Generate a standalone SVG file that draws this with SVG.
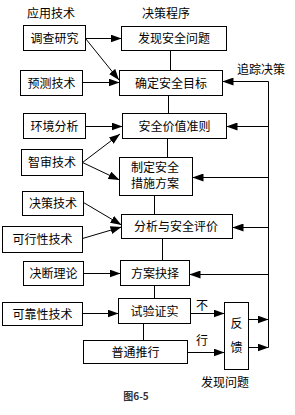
<svg xmlns="http://www.w3.org/2000/svg" width="295" height="415" viewBox="0 0 295 415">
<style>
rect{fill:#fff;stroke:#000;stroke-width:1}
text{font-family:"Noto Sans CJK SC","Liberation Sans",sans-serif;font-size:12px;fill:#000;text-anchor:middle}
.c line,.c polyline{stroke:#000;stroke-width:1;fill:none}
.a{marker-end:url(#ah)}
</style>
<defs>
<marker id="ah" markerUnits="userSpaceOnUse" markerWidth="11" markerHeight="8" refX="11" refY="4" orient="auto">
<path d="M0,0 L11,4 L0,8 z" fill="#000"/>
</marker>
</defs>
<rect x="0" y="0" width="295" height="415" style="stroke:none"/>
<text x="51" y="18">应用技术</text>
<text x="166" y="18">决策程序</text>
<text x="261" y="74">追踪决策</text>

<g id="t1"><rect x="23.5" y="25.5" width="62" height="25"/><text x="54.5" y="42.5">调查研究</text></g>
<g id="t2"><rect x="20.5" y="70.5" width="62" height="25"/><text x="51.5" y="87.5">预测技术</text></g>
<g id="t3"><rect x="23.5" y="113.5" width="62" height="25"/><text x="54.5" y="130.5">环境分析</text></g>
<g id="t4"><rect x="21.5" y="149.5" width="61" height="26"/><text x="52" y="167">智审技术</text></g>
<g id="t5"><rect x="22.5" y="191.5" width="61" height="24"/><text x="53" y="208">决策技术</text></g>
<g id="t6"><rect x="2.5" y="226.5" width="80" height="26"/><text x="42.5" y="244">可行性技术</text></g>
<g id="t7"><rect x="23.5" y="261.5" width="60" height="24"/><text x="53.5" y="278">决断理论</text></g>
<g id="t8"><rect x="2.5" y="302.5" width="80" height="23"/><text x="42.5" y="318.5">可靠性技术</text></g>

<g id="s1"><rect x="121.5" y="26.5" width="105" height="24"/><text x="174" y="43">发现安全问题</text></g>
<g id="s2"><rect x="119.5" y="70.5" width="103" height="25"/><text x="171" y="87.5">确定安全目标</text></g>
<g id="s3"><rect x="122.5" y="113.5" width="104" height="25"/><text x="174.5" y="130.5">安全价值准则</text></g>
<g id="s4"><rect x="119.5" y="157.5" width="73" height="38"/><text x="155" y="172">制定安全</text><text x="155" y="188">措施方案</text></g>
<g id="s5"><rect x="121.5" y="214.5" width="111" height="24"/><text x="176" y="231">分析与安全评价</text></g>
<g id="s6"><rect x="120.5" y="260.5" width="69" height="25"/><text x="155" y="277.5">方案抉择</text></g>
<g id="s7"><rect x="118.5" y="298.5" width="72" height="25"/><text x="154.5" y="315.5">试验证实</text></g>
<g id="s8"><rect x="83.5" y="340.5" width="104" height="23"/><text x="135.5" y="356.5">普通推行</text></g>
<g id="fb"><rect x="224.5" y="302.5" width="24" height="67"/><text x="236.5" y="328">反</text><text x="236.5" y="352">馈</text></g>

<text x="202" y="310">不</text>
<text x="202" y="345">行</text>
<text x="225" y="387">发现问题</text>
<text x="136" y="400" style="font-size:10px;font-weight:bold;fill:#333">图6-5</text>

<g class="c">
<line class="a" x1="85.5" y1="38.5" x2="121.5" y2="38.5"/>
<line class="a" x1="85.5" y1="38.5" x2="119" y2="80"/>
<line class="a" x1="82.5" y1="82.5" x2="119.5" y2="82.5"/>
<line class="a" x1="85.5" y1="126.5" x2="122.5" y2="126.5"/>
<line class="a" x1="82.5" y1="162.5" x2="120" y2="134"/>
<line class="a" x1="82.5" y1="162.5" x2="119.5" y2="180"/>
<line class="a" x1="83.5" y1="202.5" x2="121.5" y2="225"/>
<line class="a" x1="82.5" y1="238.5" x2="121.5" y2="227"/>
<line class="a" x1="83.5" y1="273.5" x2="120.5" y2="273.5"/>
<line class="a" x1="82.5" y1="313.5" x2="118.5" y2="313.5"/>

<line x1="170.5" y1="50.5" x2="170.5" y2="70.5"/>
<line x1="168.5" y1="95.5" x2="168.5" y2="113.5"/>
<line x1="167.5" y1="138.5" x2="167.5" y2="157.5"/>
<line x1="154.5" y1="195.5" x2="154.5" y2="214.5"/>
<line x1="162.5" y1="238.5" x2="162.5" y2="260.5"/>
<line x1="154.5" y1="285.5" x2="154.5" y2="298.5"/>
<line x1="143.5" y1="323.5" x2="143.5" y2="340.5"/>

<line class="a" x1="190.5" y1="313.5" x2="224.5" y2="313.5"/>
<line class="a" x1="187.5" y1="352.5" x2="224.5" y2="352.5"/>
<line class="a" x1="248.5" y1="319.5" x2="268.5" y2="319.5"/>
<line class="a" x1="248.5" y1="347.5" x2="268.5" y2="347.5"/>
<line x1="268.5" y1="81.5" x2="268.5" y2="347.5"/>
<line class="a" x1="268.5" y1="81.5" x2="222.5" y2="81.5"/>
<line class="a" x1="268.5" y1="126.5" x2="226.5" y2="126.5"/>
<line class="a" x1="268.5" y1="177.5" x2="192.5" y2="177.5"/>
<line class="a" x1="268.5" y1="227.5" x2="232.5" y2="227.5"/>
<line class="a" x1="268.5" y1="274.5" x2="189.5" y2="274.5"/>
</g>
</svg>
